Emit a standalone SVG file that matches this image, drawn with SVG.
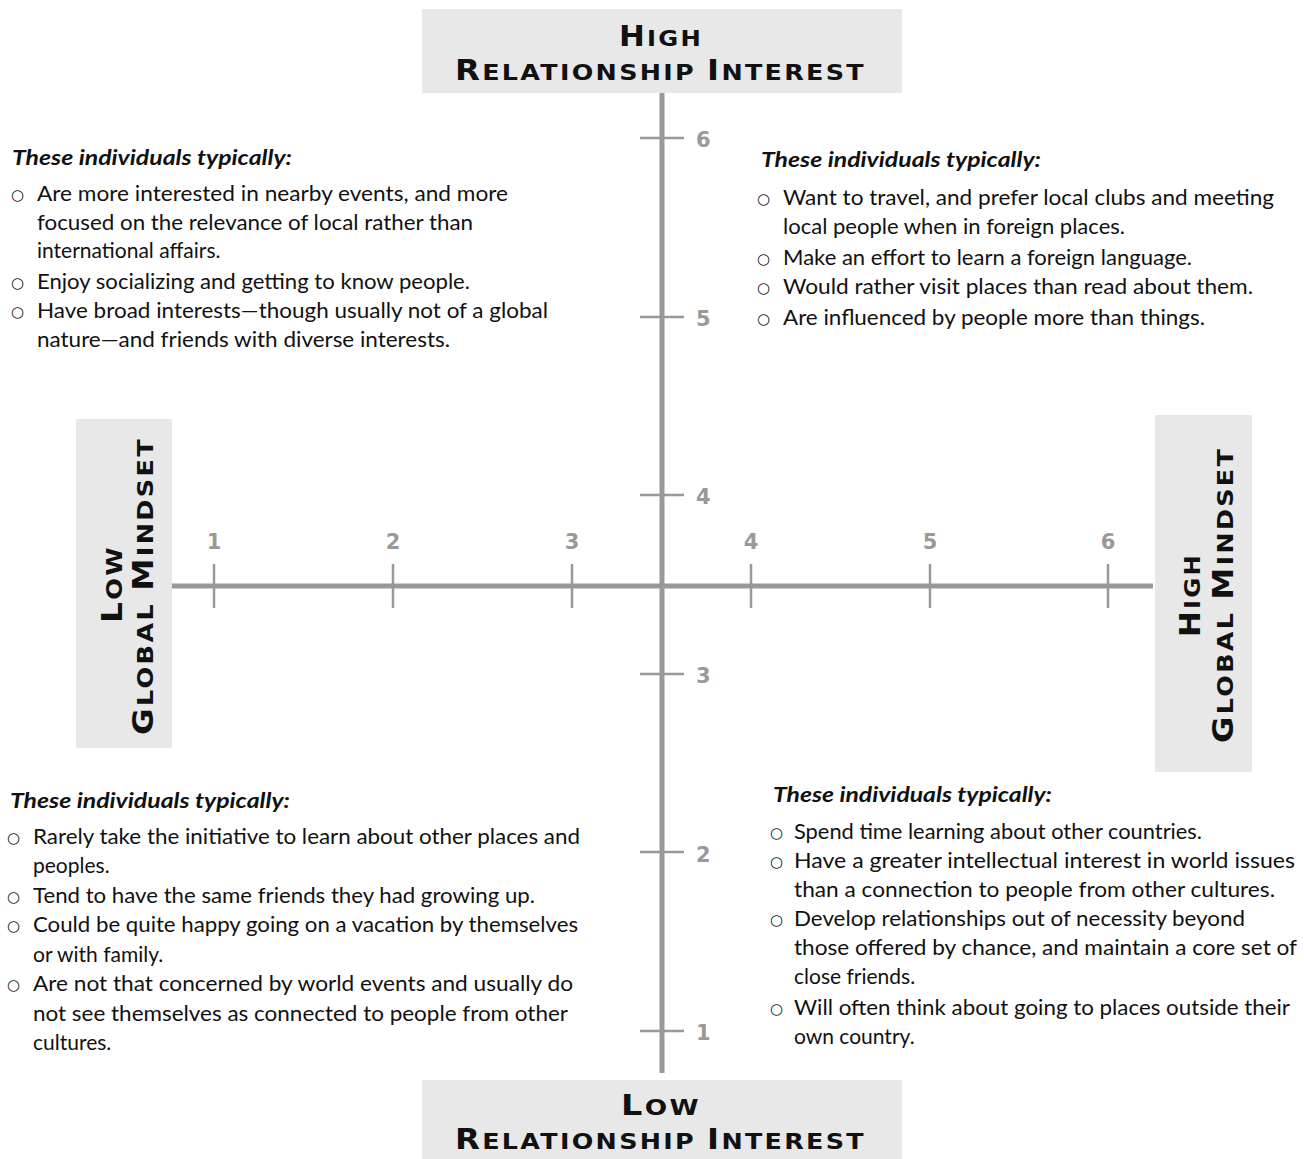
<svg xmlns="http://www.w3.org/2000/svg" width="1304" height="1159" viewBox="0 0 1304 1159">
<style>
.box{fill:#e8e8e8}
.axis{stroke:#999;stroke-width:5;fill:none}
.tick{stroke:#999;stroke-width:2.5;fill:none}
.num{font-family:"DejaVu Sans",sans-serif;font-weight:bold;font-size:21px;fill:#999}
.ttl{font-family:"DejaVu Sans",sans-serif;font-weight:bold;fill:#111;letter-spacing:2px}
.big{font-size:28px}
.sm{font-size:22px}
.hd{font-family:Lato,"Open Sans",sans-serif;font-weight:bold;font-style:italic;font-size:21px;fill:#111}
.tx{font-family:Lato,"Open Sans",sans-serif;font-size:21px;fill:#111}
.bl{font-family:"DejaVu Sans",sans-serif;font-size:15px;fill:#111}
</style>
<g id="connectors">
<line class="axis" x1="662" y1="93" x2="662" y2="1073"/>
<line class="axis" x1="172" y1="586" x2="1153" y2="586"/>
<line class="tick" x1="214" y1="564" x2="214" y2="608"/>
<line class="tick" x1="393" y1="564" x2="393" y2="608"/>
<line class="tick" x1="572" y1="564" x2="572" y2="608"/>
<line class="tick" x1="751" y1="564" x2="751" y2="608"/>
<line class="tick" x1="930" y1="564" x2="930" y2="608"/>
<line class="tick" x1="1108" y1="564" x2="1108" y2="608"/>
<line class="tick" x1="640" y1="138" x2="684" y2="138"/>
<line class="tick" x1="640" y1="317" x2="684" y2="317"/>
<line class="tick" x1="640" y1="495" x2="684" y2="495"/>
<line class="tick" x1="640" y1="674" x2="684" y2="674"/>
<line class="tick" x1="640" y1="852" x2="684" y2="852"/>
<line class="tick" x1="640" y1="1031" x2="684" y2="1031"/>
</g>
<g id="x-labels" text-anchor="middle">
<text class="num" x="214" y="549">1</text>
<text class="num" x="393" y="549">2</text>
<text class="num" x="572" y="549">3</text>
<text class="num" x="751" y="549">4</text>
<text class="num" x="930" y="549">5</text>
<text class="num" x="1108" y="549">6</text>
</g>
<g id="y-labels">
<text class="num" x="696" y="147">6</text>
<text class="num" x="696" y="326">5</text>
<text class="num" x="696" y="504">4</text>
<text class="num" x="696" y="683">3</text>
<text class="num" x="696" y="862">2</text>
<text class="num" x="696" y="1040">1</text>
</g>
<g id="top-label">
<rect class="box" x="422" y="9" width="480" height="84"/>
<text class="ttl" x="619" y="46" textLength="84" lengthAdjust="spacingAndGlyphs"><tspan class="big">H</tspan><tspan class="sm">IGH</tspan></text>
<text class="ttl" x="455" y="80" textLength="411" lengthAdjust="spacingAndGlyphs"><tspan class="big">R</tspan><tspan class="sm">ELATIONSHIP </tspan><tspan class="big">I</tspan><tspan class="sm">NTEREST</tspan></text>
</g>
<g id="bottom-label">
<rect class="box" x="422" y="1080" width="480" height="79"/>
<text class="ttl" x="621" y="1115" textLength="80" lengthAdjust="spacingAndGlyphs"><tspan class="big">L</tspan><tspan class="sm">OW</tspan></text>
<text class="ttl" x="455" y="1149" textLength="411" lengthAdjust="spacingAndGlyphs"><tspan class="big">R</tspan><tspan class="sm">ELATIONSHIP </tspan><tspan class="big">I</tspan><tspan class="sm">NTEREST</tspan></text>
</g>
<g id="left-label">
<rect class="box" x="76" y="419" width="96" height="329"/>
<text class="ttl" transform="translate(122,623) rotate(-90)" textLength="78" lengthAdjust="spacingAndGlyphs"><tspan class="big">L</tspan><tspan class="sm">OW</tspan></text>
<text class="ttl" transform="translate(153,735) rotate(-90)" textLength="298" lengthAdjust="spacingAndGlyphs"><tspan class="big">G</tspan><tspan class="sm">LOBAL </tspan><tspan class="big">M</tspan><tspan class="sm">INDSET</tspan></text>
</g>
<g id="right-label">
<rect class="box" x="1155" y="415" width="97" height="357"/>
<text class="ttl" transform="translate(1200,637) rotate(-90)" textLength="84" lengthAdjust="spacingAndGlyphs"><tspan class="big">H</tspan><tspan class="sm">IGH</tspan></text>
<text class="ttl" transform="translate(1233,743) rotate(-90)" textLength="296" lengthAdjust="spacingAndGlyphs"><tspan class="big">G</tspan><tspan class="sm">LOBAL </tspan><tspan class="big">M</tspan><tspan class="sm">INDSET</tspan></text>
</g>
<g id="top-left-quadrant">
<text class="hd" x="12" y="165" textLength="280" lengthAdjust="spacingAndGlyphs">These individuals typically:</text>
<text class="bl" x="11" y="200">○</text>
<text class="tx" x="37" y="201" textLength="471" lengthAdjust="spacingAndGlyphs">Are more interested in nearby events, and more</text>
<text class="tx" x="37" y="230" textLength="436" lengthAdjust="spacingAndGlyphs">focused on the relevance of local rather than</text>
<text class="tx" x="37" y="258">international affairs.</text>
<text class="bl" x="11" y="288">○</text>
<text class="tx" x="37" y="289" textLength="433" lengthAdjust="spacingAndGlyphs">Enjoy socializing and getting to know people.</text>
<text class="bl" x="11" y="317">○</text>
<text class="tx" x="37" y="318" textLength="511" lengthAdjust="spacingAndGlyphs">Have broad interests—though usually not of a global</text>
<text class="tx" x="37" y="347" textLength="413" lengthAdjust="spacingAndGlyphs">nature—and friends with diverse interests.</text>
</g>
<g id="top-right-quadrant">
<text class="hd" x="761" y="167" textLength="280" lengthAdjust="spacingAndGlyphs">These individuals typically:</text>
<text class="bl" x="757" y="204">○</text>
<text class="tx" x="783" y="205" textLength="491" lengthAdjust="spacingAndGlyphs">Want to travel, and prefer local clubs and meeting</text>
<text class="tx" x="783" y="234" textLength="342" lengthAdjust="spacingAndGlyphs">local people when in foreign places.</text>
<text class="bl" x="757" y="264">○</text>
<text class="tx" x="783" y="265" textLength="409" lengthAdjust="spacingAndGlyphs">Make an effort to learn a foreign language.</text>
<text class="bl" x="757" y="293">○</text>
<text class="tx" x="783" y="294" textLength="470" lengthAdjust="spacingAndGlyphs">Would rather visit places than read about them.</text>
<text class="bl" x="757" y="324">○</text>
<text class="tx" x="783" y="325" textLength="422" lengthAdjust="spacingAndGlyphs">Are influenced by people more than things.</text>
</g>
<g id="bottom-left-quadrant">
<text class="hd" x="10" y="808" textLength="280" lengthAdjust="spacingAndGlyphs">These individuals typically:</text>
<text class="bl" x="7" y="843">○</text>
<text class="tx" x="33" y="844" textLength="547" lengthAdjust="spacingAndGlyphs">Rarely take the initiative to learn about other places and</text>
<text class="tx" x="33" y="873">peoples.</text>
<text class="bl" x="7" y="902">○</text>
<text class="tx" x="33" y="903" textLength="502" lengthAdjust="spacingAndGlyphs">Tend to have the same friends they had growing up.</text>
<text class="bl" x="7" y="931">○</text>
<text class="tx" x="33" y="932" textLength="545" lengthAdjust="spacingAndGlyphs">Could be quite happy going on a vacation by themselves</text>
<text class="tx" x="33" y="962">or with family.</text>
<text class="bl" x="7" y="990">○</text>
<text class="tx" x="33" y="991" textLength="540" lengthAdjust="spacingAndGlyphs">Are not that concerned by world events and usually do</text>
<text class="tx" x="33" y="1021" textLength="535" lengthAdjust="spacingAndGlyphs">not see themselves as connected to people from other</text>
<text class="tx" x="33" y="1050">cultures.</text>
</g>
<g id="bottom-right-quadrant">
<text class="hd" x="773" y="802" textLength="279" lengthAdjust="spacingAndGlyphs">These individuals typically:</text>
<text class="bl" x="770" y="838">○</text>
<text class="tx" x="794" y="839" textLength="408" lengthAdjust="spacingAndGlyphs">Spend time learning about other countries.</text>
<text class="bl" x="770" y="867">○</text>
<text class="tx" x="794" y="868" textLength="501" lengthAdjust="spacingAndGlyphs">Have a greater intellectual interest in world issues</text>
<text class="tx" x="794" y="897" textLength="481" lengthAdjust="spacingAndGlyphs">than a connection to people from other cultures.</text>
<text class="bl" x="770" y="925">○</text>
<text class="tx" x="794" y="926" textLength="451" lengthAdjust="spacingAndGlyphs">Develop relationships out of necessity beyond</text>
<text class="tx" x="794" y="955" textLength="503" lengthAdjust="spacingAndGlyphs">those offered by chance, and maintain a core set of</text>
<text class="tx" x="794" y="984">close friends.</text>
<text class="bl" x="770" y="1014">○</text>
<text class="tx" x="794" y="1015" textLength="496" lengthAdjust="spacingAndGlyphs">Will often think about going to places outside their</text>
<text class="tx" x="794" y="1044">own country.</text>
</g>
</svg>
